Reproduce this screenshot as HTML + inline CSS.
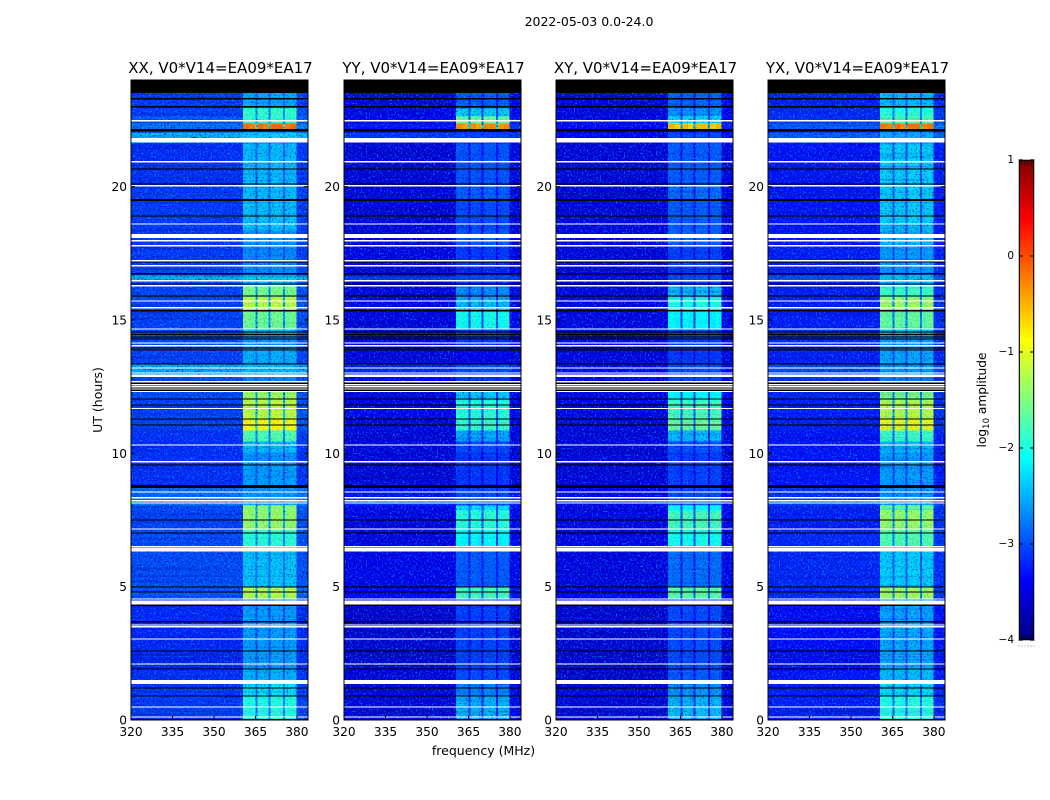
<!DOCTYPE html>
<html lang="en">
<head>
<meta charset="utf-8">
<title>2022-05-03 0.0-24.0</title>
<style>
html,body{margin:0;padding:0;background:#fff;}
#chart{display:block;width:1050px;height:800px;}
text{font-family:"DejaVu Sans","Liberation Sans",sans-serif;fill:#000;}
</style>
</head>
<body>
<svg id="chart" xmlns="http://www.w3.org/2000/svg" width="1050" height="800" viewBox="0 0 1050 800">
  <defs>
    <filter id="speckle-light" x="0" y="0" width="100%" height="100%" color-interpolation-filters="sRGB">
      <feTurbulence type="fractalNoise" baseFrequency="0.62" numOctaves="1" seed="4"/>
      <feColorMatrix type="matrix" values="0 0 0 0 0  0 0 0 0 0.7  0 0 0 0 1  3 0 0 0 -1.55"/>
    </filter>
    <filter id="speckle-dark" x="0" y="0" width="100%" height="100%" color-interpolation-filters="sRGB">
      <feTurbulence type="fractalNoise" baseFrequency="0.62" numOctaves="1" seed="11"/>
      <feColorMatrix type="matrix" values="0 0 0 0 0  0 0 0 0 0  0 0 0 0 0.65  0 3.4 0 0 -1.75"/>
    </filter>
    <filter id="streak-dark" x="0" y="0" width="100%" height="100%" color-interpolation-filters="sRGB">
      <feTurbulence type="fractalNoise" baseFrequency="0.004 0.45" numOctaves="1" seed="7"/>
      <feColorMatrix type="matrix" values="0 0 0 0 0  0 0 0 0 0  0 0 0 0 0.6  0 0 1 0 -0.5"/>
    </filter>
  </defs>
  <text x="589" y="26" text-anchor="middle" font-size="12.5">2022-05-03 0.0-24.0</text>
  <text x="483.5" y="755" text-anchor="middle" font-size="12.5">frequency (MHz)</text>
  <text transform="translate(102 400) rotate(-90)" text-anchor="middle" font-size="12.5">UT (hours)</text>
  <text transform="translate(986 400) rotate(-90)" text-anchor="middle" font-size="12.2">log<tspan font-size="8.5" dy="3">10</tspan><tspan dy="-3"> amplitude</tspan></text>
  <g id="panels"></g>
  <g id="colorbar"></g>
</svg>
<script>
// ---------- data ----------
const panelTitles = ["XX, V0*V14=EA09*EA17", "YY, V0*V14=EA09*EA17", "XY, V0*V14=EA09*EA17", "YX, V0*V14=EA09*EA17"];
const freqTicks = [320, 335, 350, 365, 380];
const hourTicks = [0, 5, 10, 15, 20];
const colorTicks = [1, 0, -1, -2, -3, -4];

// frequency columns (MHz) and how much of a time band's RFI level shows in each column
const freqEdges = [320, 327, 334, 341, 348, 355, 360.5, 362.7, 365, 365.7, 367.7, 369.8, 370.5, 372.7, 375, 375.7, 377.7, 379.8, 384];
const freqGain = [0, 0, 0, 0, 0, 0, 1, 0.96, 0.35, 1, 0.95, 0.35, 1, 1, 0.35, 0.96, 1, 0.05];

// time bands (hours, bottom to top)
const timeEdges = [0, 0.9, 1.46, 1.95, 4.31, 4.58, 4.99, 6.3, 6.53, 7.13, 7.88, 8.06, 8.33, 8.74, 9.56, 10.05, 10.46, 10.88, 11.33, 12, 12.34, 12.9, 13.35, 13.91, 14.55, 14.7, 15.34, 15.86, 16.28, 16.46, 16.69, 17.06, 17.78, 18.38, 19.5, 20.06, 21.64, 21.83, 22.05, 22.16, 22.39, 22.65, 22.95, 23.51];

// log10 amplitude per time band: quiet background and level in the RFI blocks
const bgXX = [-3.1, -3.1, -3.15, -3.2, -3.2, -2.95, -3, -3, -3, -3.05, -3, -2.75, -2.8, -3.15, -3.15, -3.15, -3.15, -3.05, -3.05, -3, -3, -2.5, -3.05, -3, -3.05, -3.05, -3.05, -3.05, -3, -2.45, -3.05, -3.1, -3.1, -3.1, -3.1, -3.15, -3, -2.4, -3, -2.8, -2.9, -3.05, -3.1];
const rfiXX = [-1.95, -2.2, -2.45, -2.55, -2.6, -1.2, -2.35, -2.4, -1.9, -1.35, -1.4, -2.5, -2.6, -2.55, -2.6, -2.4, -1.7, -0.85, -1.15, -1.3, -2.7, -2.4, -2.45, -2.6, -2.4, -1.55, -1.15, -1.5, -2.4, -2.35, -2.65, -2.65, -2.6, -2.35, -2.4, -2.4, -2.7, -2.3, -2.9, -0.15, -1.9, -1.85, -2.5];
const bgYY = [-3.55, -3.55, -3.55, -3.6, -3.6, -3.4, -3.45, -3.45, -3.5, -3.5, -3.45, -3.2, -3.3, -3.55, -3.55, -3.55, -3.55, -3.5, -3.5, -3.5, -3.4, -3.2, -3.5, -3.45, -3.5, -3.5, -3.5, -3.5, -3.5, -3.1, -3.5, -3.5, -3.55, -3.55, -3.55, -3.55, -3.5, -3.1, -3.5, -3.3, -3.4, -3.5, -3.55];
const rfiYY = [-2.45, -2.7, -3, -3.05, -3.1, -1.75, -2.9, -2.9, -2.1, -1.9, -2.2, -3, -3, -3.1, -3.1, -3, -2.5, -1.85, -1.9, -2.3, -3.1, -3, -3.45, -3.1, -3.1, -2, -2.4, -2.65, -3.1, -3, -3.2, -3.1, -2.9, -3, -2.9, -2.95, -3.2, -3.05, -3.3, -0.3, -1.6, -2.3, -2.9];
const bgXY = [-3.55, -3.55, -3.6, -3.6, -3.6, -3.45, -3.5, -3.5, -3.5, -3.5, -3.5, -3.4, -3.4, -3.55, -3.55, -3.55, -3.55, -3.5, -3.5, -3.5, -3.45, -3.4, -3.5, -3.5, -3.5, -3.5, -3.5, -3.5, -3.5, -3.4, -3.5, -3.5, -3.55, -3.55, -3.55, -3.55, -3.5, -3.4, -3.5, -3.4, -3.45, -3.5, -3.55];
const rfiXY = [-2.4, -2.6, -2.9, -3, -3.05, -1.65, -2.8, -2.85, -2, -1.75, -2.1, -2.95, -3, -3.05, -3.05, -2.95, -2.4, -1.6, -1.75, -2.1, -3.05, -3, -3.1, -3.05, -3, -2.1, -1.95, -2.4, -3, -3, -3.1, -3.05, -2.85, -2.9, -2.8, -2.9, -3.1, -3, -3.2, -0.55, -2.2, -2.6, -2.85];
const bgYX = [-3.25, -3.25, -3.3, -3.35, -3.35, -3.2, -3.2, -3.2, -3.2, -3.25, -3.2, -3.1, -3.15, -3.3, -3.3, -3.3, -3.3, -3.25, -3.25, -3.2, -3.15, -3, -3.25, -3.2, -3.25, -3.25, -3.25, -3.25, -3.2, -3, -3.25, -3.25, -3.3, -3.3, -3.3, -3.3, -3.2, -2.9, -3.2, -2.9, -3.1, -3.2, -3.25];
const rfiYX = [-1.95, -2.2, -2.4, -2.5, -2.55, -1.3, -2.3, -2.35, -1.7, -1.35, -1.6, -2.5, -2.6, -2.55, -2.55, -2.4, -1.8, -0.95, -1.2, -1.5, -2.7, -2.5, -2.5, -2.55, -2.4, -1.6, -1.3, -1.8, -2.4, -2.4, -2.6, -2.55, -2.4, -2.3, -2.3, -2.3, -2.6, -2.5, -2.7, -0.2, -1.7, -1.9, -2.4];
const bgByPanel = [bgXX, bgYY, bgXY, bgYX];
const rfiByPanel = [rfiXX, rfiYY, rfiXY, rfiYX];

// flagged integrations: [centre hour, duration in hours]
const maskedRows = [[0.02, 0.05], [0.9, 0.05], [1.2, 0.05], [1.91, 0.05], [2.59, 0.05], [3.68, 0.05], [4.31, 0.07], [4.8, 0.04], [4.99, 0.05], [7.01, 0.05], [7.5, 0.05], [8.75, 0.11], [9.56, 0.05], [11.06, 0.05], [11.29, 0.05], [11.81, 0.05], [12.04, 0.05], [12.52, 0.4], [13.35, 0.05], [13.88, 0.03], [13.95, 0.05], [14.29, 0.04], [14.36, 0.04], [14.46, 0.04], [14.55, 0.05], [15.35, 0.05], [15.9, 0.05], [16.35, 0.05], [16.73, 0.05], [17.18, 0.05], [18.9, 0.05], [19.5, 0.09], [20.1, 0.05], [20.66, 0.05], [22.11, 0.1], [23, 0.05], [23.3, 0.05], [23.755, 0.49]];
const blankRows = [[0.11, 0.05], [0.49, 0.05], [1.39, 0.09], [1.47, 0.05], [2.1, 0.05], [3.04, 0.05], [3.5, 0.05], [3.56, 0.05], [4.4, 0.15], [4.54, 0.05], [6.38, 0.13], [6.5, 0.05], [7.16, 0.05], [8.14, 0.05], [8.22, 0.05], [8.33, 0.05], [8.55, 0.05], [9.68, 0.05], [10.31, 0.05], [11.68, 0.05], [12.32, 0.05], [12.41, 0.05], [12.5, 0.05], [12.57, 0.05], [12.68, 0.05], [12.91, 0.09], [13.01, 0.05], [13.2, 0.05], [14.04, 0.05], [14.14, 0.05], [14.66, 0.05], [15.46, 0.05], [15.71, 0.05], [16.28, 0.05], [16.47, 0.05], [17.04, 0.05], [17.22, 0.05], [17.79, 0.05], [17.97, 0.05], [18.15, 0.15], [18.6, 0.05], [20.03, 0.05], [20.93, 0.05], [21.74, 0.17], [22.47, 0.05]];

// ---------- layout and axis functions ----------
const NS = "http://www.w3.org/2000/svg";
const panelLefts = [131, 344, 556, 768];
const plotW = 177, plotTop = 80, plotBottom = 720;
const freqMin = 320, freqMax = 384, hourMin = 0, hourMax = 24, colorMin = -4, colorMax = 1;
const cbLeft = 1019, cbRight = 1034, cbTop = 160, cbBottom = 640;
const brightLevel = -2.2;

function xScale(left, f) { return left + (f - freqMin) / (freqMax - freqMin) * plotW; }
function yScale(h) { return plotBottom - (h - hourMin) / (hourMax - hourMin) * (plotBottom - plotTop); }
function cbScale(v) { return cbBottom - (v - colorMin) / (colorMax - colorMin) * (cbBottom - cbTop); }

function ramp(t) { return Math.max(0, Math.min(1, t)); }
function jet(t) {
  const r = ramp(Math.min(4 * t - 1.5, -4 * t + 4.5));
  const g = ramp(Math.min(4 * t - 0.5, -4 * t + 3.5));
  const b = ramp(Math.min(4 * t + 0.5, -4 * t + 2.5));
  return "rgb(" + Math.round(r * 255) + "," + Math.round(g * 255) + "," + Math.round(b * 255) + ")";
}
function colorOf(v) { return jet((v - colorMin) / (colorMax - colorMin)); }

function make(tag, parent, attrs, content) {
  const el = document.createElementNS(NS, tag);
  for (const k in attrs) el.setAttribute(k, attrs[k]);
  if (content !== undefined) el.textContent = content;
  parent.appendChild(el);
  return el;
}

// ---------- panels ----------
const panelsRoot = document.getElementById("panels");
panelTitles.forEach(function (title, p) {
  const left = panelLefts[p];
  const bg = bgByPanel[p];
  const rfi = rfiByPanel[p];
  const right = left + plotW;

  const g = make("g", panelsRoot, {});
  
  

  const titleEl = make("text", g, { x: left + plotW / 2 + 1, y: 73, "text-anchor": "middle", "font-size": 15 }, title);
  
  

  const heat = make("g", g, { "shape-rendering": "crispEdges" });
  
  

  for (let t = 0; t < timeEdges.length - 1; t++) {
    const yTop = yScale(timeEdges[t + 1]);
    const yBot = yScale(timeEdges[t]);
    for (let c = 0; c < freqEdges.length - 1; c++) {
      const x0 = xScale(left, freqEdges[c]);
      const x1 = xScale(left, freqEdges[c + 1]);
      const level = bg[t] + freqGain[c] * Math.max(0, rfi[t] - bg[t]);
      const cell = make("rect", heat, { x: x0, y: yTop, width: x1 - x0 + 0.5, height: yBot - yTop + 0.5, fill: colorOf(level) });
      
      
    }
  }

  const lightNoise = make("rect", g, { x: left, y: plotTop, width: plotW, height: plotBottom - plotTop, filter: "url(#speckle-light)" });
  
  
  const darkNoise = make("rect", g, { x: left, y: plotTop, width: plotW, height: plotBottom - plotTop, filter: "url(#speckle-dark)" });
  
  
  const streakNoise = make("rect", g, { x: left, y: plotTop, width: plotW, height: plotBottom - plotTop, filter: "url(#streak-dark)" });
  
  

  // RFI block cells sit above the noise: bright ones nearly smooth, quiet ones mottled
  const blocks = make("g", g, { "shape-rendering": "crispEdges" });
  
  
  for (let t = 0; t < timeEdges.length - 1; t++) {
    const yTop = yScale(timeEdges[t + 1]);
    const yBot = yScale(timeEdges[t]);
    for (let c = 0; c < freqEdges.length - 1; c++) {
      if (freqGain[c] < 0.9) continue;
      const level = bg[t] + freqGain[c] * Math.max(0, rfi[t] - bg[t]);
      const x0 = xScale(left, freqEdges[c]);
      const x1 = xScale(left, freqEdges[c + 1]);
      const cell = make("rect", blocks, { x: x0, y: yTop, width: x1 - x0, height: yBot - yTop + 0.5, fill: colorOf(level), opacity: level > brightLevel ? 0.75 : 0.3 });
      
      
    }
  }

  maskedRows.forEach(function (row) {
    const yA = yScale(row[0] + row[1] / 2);
    const yB = yScale(row[0] - row[1] / 2);
    const el = make("rect", g, { x: left, y: yA, width: plotW, height: yB - yA, fill: "#000", "shape-rendering": "crispEdges" });
    
    
  });
  blankRows.forEach(function (row) {
    const yA = yScale(row[0] + row[1] / 2);
    const yB = yScale(row[0] - row[1] / 2);
    const el = make("rect", g, { x: left, y: yA, width: plotW, height: yB - yA, fill: "#fff", "shape-rendering": "crispEdges" });
    
    
  });

  const frame = make("rect", g, { x: left, y: plotTop, width: plotW, height: plotBottom - plotTop, fill: "none", stroke: "#000", "stroke-width": 1 });
  
  

  freqTicks.forEach(function (f) {
    const x = xScale(left, f);
    const tb = make("line", g, { x1: x, x2: x, y1: plotBottom, y2: plotBottom - 4, stroke: "#000" });
    
    
    const tt = make("line", g, { x1: x, x2: x, y1: plotTop, y2: plotTop + 4, stroke: "#000" });
    
    
    const lab = make("text", g, { x: x, y: 736, "text-anchor": "middle", "font-size": 12.2 }, String(f));
    
    
  });
  hourTicks.forEach(function (h) {
    const y = yScale(h);
    const tl = make("line", g, { x1: left, x2: left + 4, y1: y, y2: y, stroke: "#000" });
    
    
    const tr = make("line", g, { x1: right, x2: right - 4, y1: y, y2: y, stroke: "#000" });
    
    
    const lab = make("text", g, { x: left - 4, y: y + 4.5, "text-anchor": "end", "font-size": 12.2 }, String(h));
    
    
  });
});

// ---------- colorbar ----------
const cbRoot = document.getElementById("colorbar");
const cbStep = 2;
for (let y = cbTop; y < cbBottom; y += cbStep) {
  const v = colorMax - (y + cbStep / 2 - cbTop) / (cbBottom - cbTop) * (colorMax - colorMin);
  const swatch = make("rect", cbRoot, { x: cbLeft, y: y, width: cbRight - cbLeft, height: cbStep + 0.4, fill: colorOf(v), "shape-rendering": "crispEdges" });
  
  
}
const cbOuter = make("rect", cbRoot, { x: cbLeft - 0.5, y: cbTop - 0.5, width: cbRight - cbLeft + 1, height: cbBottom - cbTop + 1, fill: "none", stroke: "#bbb" });


const cbFrame = make("rect", cbRoot, { x: cbLeft + 0.5, y: cbTop + 0.5, width: cbRight - cbLeft - 1, height: cbBottom - cbTop - 1, fill: "none", stroke: "#000", "stroke-width": 0.9 });


colorTicks.forEach(function (v) {
  const y = cbScale(v);
  const a = make("line", cbRoot, { x1: cbLeft, x2: cbLeft + 4, y1: y, y2: y, stroke: "#000" });
  
  
  const b = make("line", cbRoot, { x1: cbRight, x2: cbRight - 4, y1: y, y2: y, stroke: "#000" });
  
  
  const lab = make("text", cbRoot, { x: cbLeft - 5, y: y + 3, "text-anchor": "end", "font-size": 10.5 }, v < 0 ? "\u2212" + Math.abs(v) : String(v));
  
  
});
for (let i = 0; i < 6; i++) {
  const x = cbLeft + i * 3;
  if (i > 0 && i < 5) {
    const top = make("line", cbRoot, { x1: x, x2: x, y1: cbTop, y2: cbTop + 5, stroke: "#000", "stroke-width": 0.8 });
    
    
    const bot = make("line", cbRoot, { x1: x, x2: x, y1: cbBottom, y2: cbBottom - 5, stroke: "#000", "stroke-width": 0.8 });
    
    
  }
  const dot = make("rect", cbRoot, { x: x - 0.5, y: 645.5, width: 1, height: 1, fill: "#888" });
  
  
}
</script>
</body>
</html>
